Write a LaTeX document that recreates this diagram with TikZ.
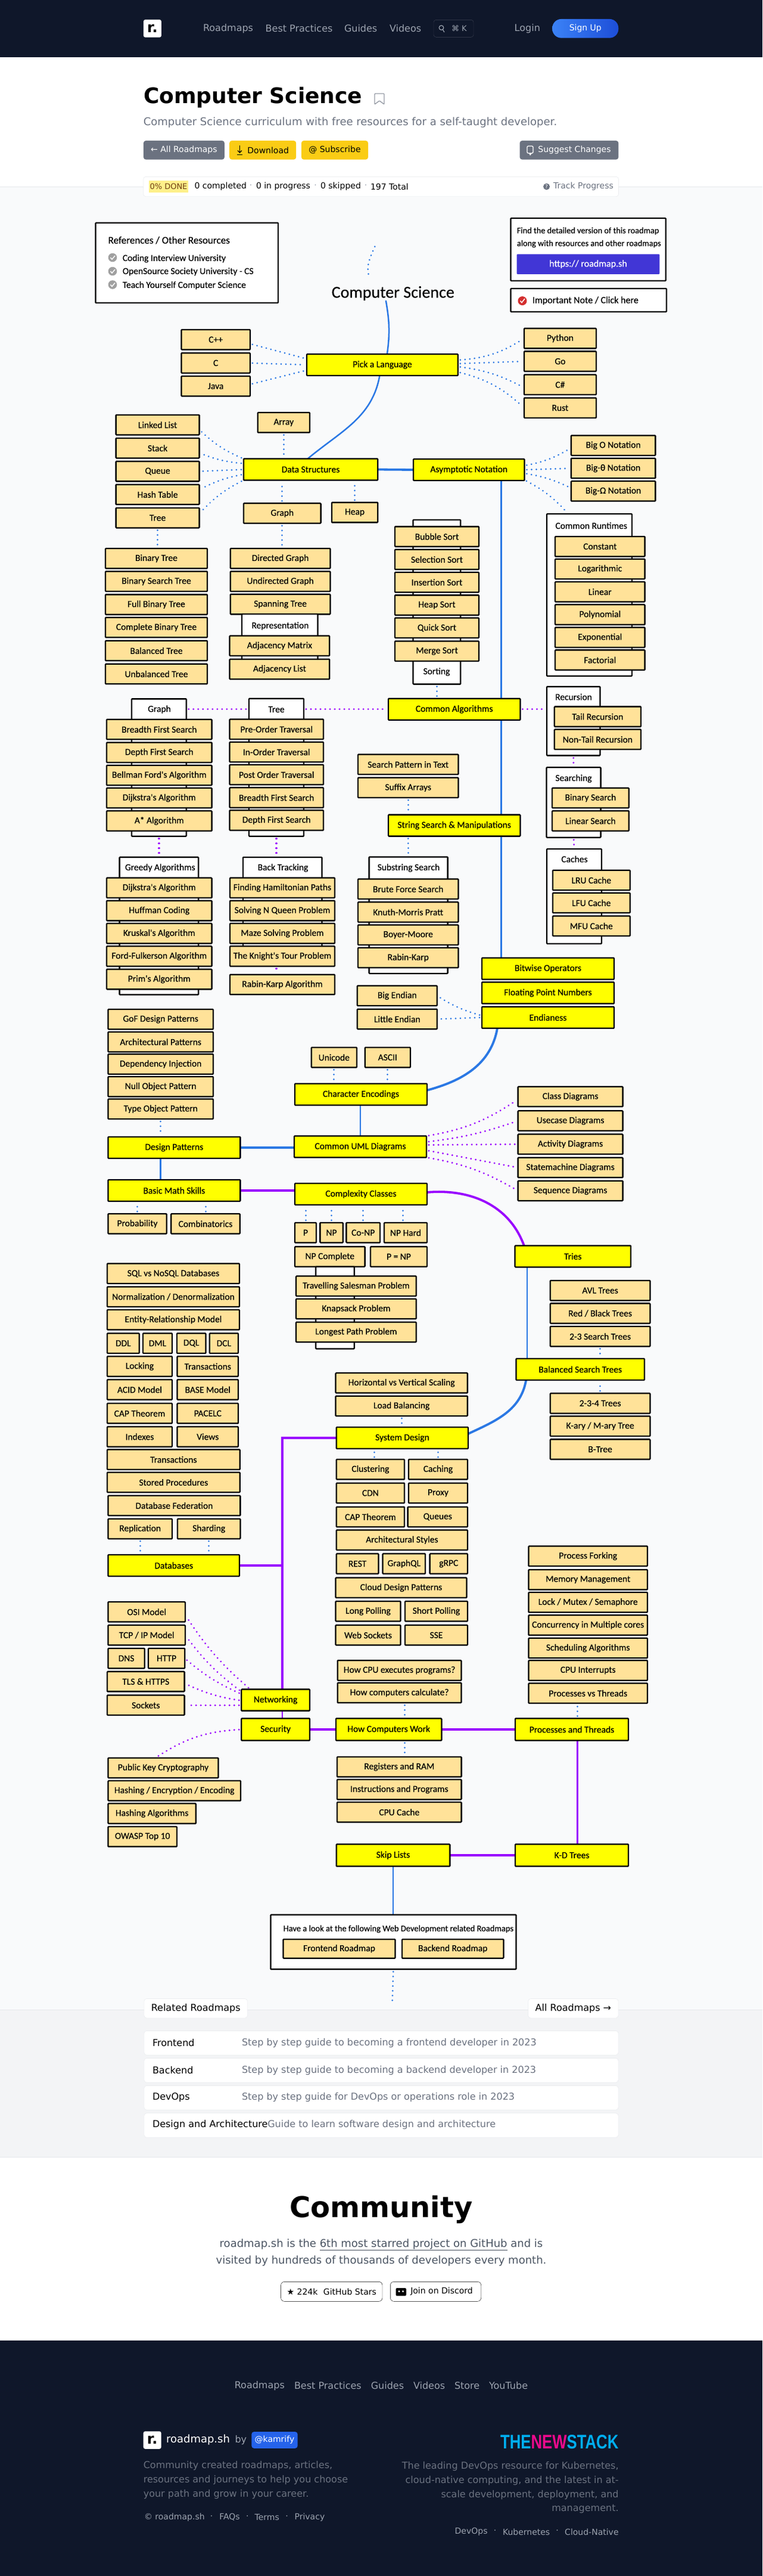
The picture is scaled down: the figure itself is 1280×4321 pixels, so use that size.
\documentclass[tikz,border=0pt]{standalone}
\usepackage{fontspec}
\usepackage{graphicx}
\setmainfont{DejaVu Sans}
\newfontfamily\mapfont[FakeBold=0.2]{Carlito}
\newfontfamily\stackfont{Liberation Sans}
\usetikzlibrary{backgrounds,calc}
\newcommand{\pxfont}[1]{\fontsize{#1}{#1}\selectfont}
\definecolor{darkbar}{HTML}{0F172A}
\definecolor{mapbg}{HTML}{F9FAFB}
\definecolor{relbg}{HTML}{F3F4F6}
\definecolor{rulegray}{HTML}{E5E7EB}
\definecolor{navgray}{HTML}{9CA3AF}
\definecolor{midgray}{HTML}{6B7280}
\definecolor{slate}{HTML}{4B5563}
\definecolor{btnyellow}{HTML}{FACC15}
\definecolor{pillyellow}{HTML}{FEF08A}
\definecolor{pilltext}{HTML}{713F12}
\definecolor{topicyellow}{HTML}{FFFF00}
\definecolor{subfill}{HTML}{FFE299}
\definecolor{lineblue}{HTML}{2B78E4}
\definecolor{linepurple}{HTML}{9900FF}
\definecolor{urlblue}{HTML}{4136D6}
\definecolor{checkgray}{HTML}{A0A0A0}
\definecolor{notered}{HTML}{D32F2F}
\definecolor{stackcyan}{HTML}{00AEEF}
\definecolor{stackpink}{HTML}{EC0A8C}
\definecolor{signleft}{HTML}{3B82F6}
\definecolor{signright}{HTML}{1D4ED8}
\definecolor{kamblue}{HTML}{2563EB}
\tikzset{
  x=1pt,y=-1pt,
  boxbase/.style={draw=black,line width=2.3,rounded corners=1,inner sep=0,outer sep=0,text=black,font={\mapfont\pxfont{15.5}}},
  sub/.style={boxbase,fill=subfill,minimum height=33.5,minimum width=#1},
  topic/.style={boxbase,fill=topicyellow,minimum height=36,minimum width=#1},
  grp/.style 2 args={boxbase,fill=white,minimum width=#1,minimum height=#2},
  lbl/.style={inner sep=0,text=black,font={\mapfont\pxfont{15.5}}},
  dotb/.style={draw=lineblue,line width=3,line cap=round,dash pattern=on 0.01pt off 8pt,shorten >=4,shorten <=4},
  dotp/.style={draw=linepurple,line width=3.2,line cap=round,dash pattern=on 0.01pt off 8pt,shorten >=4,shorten <=4},
  lineb/.style={draw=lineblue,line width=2.5},
  linep/.style={draw=linepurple,line width=2.5},
  thickb/.style={draw=lineblue,line width=3.8},
  thickp/.style={draw=linepurple,line width=3.8},
  txt/.style={inner sep=0,outer sep=0,anchor=west,font=\pxfont{#1}},
  ctxt/.style={inner sep=0,outer sep=0,font=\pxfont{#1}},
  rtxt/.style={inner sep=0,outer sep=0,anchor=east,font=\pxfont{#1}},
  pagebtn/.style={rounded corners=4,inner sep=0,outer sep=0,minimum height=31.7},
  relrow/.style={fill=white,draw=rulegray,rounded corners=4,inner sep=0,outer sep=0,minimum width=796,minimum height=40.5},
}
\begin{document}
\begin{tikzpicture}
\useasboundingbox (0,0) rectangle (1280,4321);
% page bands
\begin{scope}[on background layer]
\fill[white] (0,0) rectangle (1280,4321);
\fill[darkbar] (0,0) rectangle (1280,96);
\fill[mapbg] (0,313.3) rectangle (1280,3371.3);
\fill[relbg] (0,3371.3) rectangle (1280,3618.3);
\fill[darkbar] (0,3925.7) rectangle (1280,4321);
\draw[rulegray,line width=1] (0,313.3) -- (1280,313.3);
\draw[rulegray,line width=1] (0,3371.3) -- (1280,3371.3);
\draw[rulegray,line width=1] (0,3618.3) -- (1280,3618.3);
\end{scope}

% top bar
\node[fill=white,rounded corners=3,inner sep=0,minimum width=30,minimum height=29.7,font={\bfseries\pxfont{24}},text=black] (toplogo) at (255.9,47.8) {r.};
\node[txt=16,text=navgray] (navroad) at (341,47.7) {Roadmaps};
\node[txt=16,text=navgray] (navbest) at (445.7,47.7) {Best Practices};
\node[txt=16,text=navgray] (navguide) at (578,47.7) {Guides};
\node[txt=16,text=navgray] (navvideo) at (654,47.7) {Videos};
\node[draw=darkbar!80!white,rounded corners=4,inner sep=0,minimum width=67,minimum height=29] (searchbox) at (761.5,47.8) {};
\draw[navgray,line width=1.2] (741,46.5) circle (3.8);
\draw[navgray,line width=1.2] (743.5,50) -- (746,54);
\node[txt=13,text=navgray] (searchkey) at (758,47.7) {⌘ K};
\node[txt=16,text=navgray] (navlogin) at (863.7,47.7) {Login};
\node[left color=signleft,right color=signright,rounded corners=15,inner sep=0,minimum width=111,minimum height=31.7,text=white,font=\pxfont{14}] (signup) at (982.8,47.8) {Sign Up};

% heading
\node[txt=36,font={\bfseries\pxfont{36}},text=black] (pagetitle) at (241,163.3) {Computer Science};
\draw[midgray!70,line width=1.4,rounded corners=1] (629,157) -- (645,157) -- (645,175) -- (637,169) -- (629,175) -- cycle;
\node[txt=18,text=midgray] (pagesub) at (240.8,206) {Computer Science curriculum with free resources for a self-taught developer.};
\node[pagebtn,fill=midgray,minimum width=136,text=white,font=\pxfont{14}] (btnall) at (308.9,251.8) {← All Roadmaps};
\node[pagebtn,fill=btnyellow,minimum width=112,font=\pxfont{14},text=black] (btndown) at (441.2,251.8) {\hspace{18pt}Download};
\draw[black,line width=1.3] (402.5,244) -- (402.5,256);
\draw[black,line width=1.3] (399,252.5) -- (402.5,256) -- (406,252.5);
\draw[black,line width=1.5] (398,259.5) -- (407,259.5);
\node[pagebtn,fill=btnyellow,minimum width=112,font=\pxfont{14},text=black] (btnsub) at (562,251.8) {@ Subscribe};
\node[pagebtn,fill=midgray,minimum width=165.7,text=white,font=\pxfont{14}] (btnsug) at (955.5,251.8) {\hspace{18pt}Suggest Changes};
\draw[white,line width=1.3,rounded corners=2] (885,245) rectangle (895,257);
\fill[white] (888,257) -- (893,257) -- (890,261) -- cycle;

% progress bar
\node[fill=white,draw=rulegray,rounded corners=4,inner sep=0,minimum width=797.6,minimum height=33.4] (progbar) at (639.6,313) {};
\node[fill=pillyellow,inner sep=0,minimum width=66,minimum height=20,text=pilltext,font=\pxfont{13}] (progdone) at (283,313) {0\% DONE};
\node[txt=14,text=black] (progcomp) at (326.5,313) {0 completed};
\node[ctxt=14,text=navgray] (progdot1) at (421,313) {·};
\node[txt=14,text=black] (progwork) at (430,313) {0 in progress};
\node[ctxt=14,text=navgray] (progdot2) at (529.5,313) {·};
\node[txt=14,text=black] (progskip) at (538,313) {0 skipped};
\node[ctxt=14,text=navgray] (progdot3) at (614,313) {·};
\node[txt=14,text=black] (progtotal) at (622,313) {197 Total};
\fill[midgray] (917.6,313) circle (5.5);
\node[ctxt=9,text=white] (trackq) at (917.6,313) {?};
\node[txt=14,text=midgray] (tracktxt) at (929,313) {Track Progress};

% side boxes
\node[grp={306.6}{134.3}] (refbox) at (313.7,440.9) {};
\node[lbl,anchor=west,font={\mapfont\pxfont{17}}] (reftitle) at (181.5,403) {References / Other Resources};
\fill[checkgray] (189,432) circle (7.3);
\fill[checkgray] (189,455) circle (7.3);
\fill[checkgray] (189,477.5) circle (7.3);
\draw[white,line width=1.4] (185.5,432) -- (188,435) -- (193,429);
\draw[white,line width=1.4] (185.5,455) -- (188,458) -- (193,452);
\draw[white,line width=1.4] (185.5,477.5) -- (188,480.5) -- (193,474.5);
\node[lbl,anchor=west] (refone) at (205.7,433.7) {Coding Interview University};
\node[lbl,anchor=west] (reftwo) at (205.7,455.7) {OpenSource Society University - CS};
\node[lbl,anchor=west] (refthree) at (205.7,478.8) {Teach Yourself Computer Science};
\node[grp={260.2}{105}] (infobox) at (987.6,418.5) {};
\node[lbl,anchor=west,font={\mapfont\pxfont{14.3}}] (infoone) at (867.7,387.5) {Find the detailed version of this roadmap};
\node[lbl,anchor=west,font={\mapfont\pxfont{14.3}}] (infotwo) at (867.7,409) {along with resources and other roadmaps};
\node[fill=urlblue,rounded corners=1,inner sep=0,minimum width=239.7,minimum height=33.4,text=white,font={\mapfont\pxfont{16}}] (infourl) at (987.5,443.1) {https:// roadmap.sh};
\node[grp={261.5}{38.9}] (notebox) at (988.2,503.5) {};
\fill[notered] (877,504.6) circle (7.5);
\draw[white,line width=1.5] (873.5,504.6) -- (876,507.6) -- (881,501);
\node[lbl,anchor=west,font={\mapfont\pxfont{16}}] (notetxt) at (893.8,504.3) {Important Note / Click here};
\node[lbl,font={\mapfont\pxfont{28}}] (cstitle) at (659.8,492) {Computer Science};
\coordinate (dottop) at (631,410);
\coordinate (dotend) at (619.6,466);

% languages
\node[topic=253.8] (pick) at (641.9,612) {Pick a Language};
\node[sub=115.5] (langcpp) at (362.2,569.7) {C++};
\node[sub=115.5] (langc) at (362.2,608.9) {C};
\node[sub=115.5] (langjava) at (362.2,647.7) {Java};
\node[sub=121] (langpy) at (940.4,567.6) {Python};
\node[sub=121] (langgo) at (940.4,606.1) {Go};
\node[sub=121] (langcs) at (940.4,645.3) {C\#};
\node[sub=121] (langrust) at (940.4,684.2) {Rust};

% data structures
\node[topic=225.3] (ds) at (521.6,787.5) {Data Structures};
\node[sub=87.3] (dsarray) at (476.3,708.8) {Array};
\node[sub=140] (dslinked) at (264.6,712.7) {Linked List};
\node[sub=140] (dsstack) at (264.6,751.7) {Stack};
\node[sub=140] (dsqueue) at (264.6,790.6) {Queue};
\node[sub=140] (dshash) at (264.6,829.5) {Hash Table};
\node[sub=140] (dstree) at (264.6,868.7) {Tree};
\node[sub=129.6] (dsgraph) at (473.8,861) {Graph};
\node[sub=77.3] (dsheap) at (595.6,859.6) {Heap};
\node[sub=171] (treebin) at (262.5,936.8) {Binary Tree};
\node[sub=171] (treebst) at (262.5,975.2) {Binary Search Tree};
\node[sub=171] (treefull) at (262.5,1014.1) {Full Binary Tree};
\node[sub=171] (treecomp) at (262.5,1052.5) {Complete Binary Tree};
\node[sub=171] (treebal) at (262.5,1091.5) {Balanced Tree};
\node[sub=171] (treeunbal) at (262.5,1130.5) {Unbalanced Tree};
\node[sub=167.7] (graphdir) at (470.6,936.8) {Directed Graph};
\node[sub=167.7] (graphund) at (470.6,975.2) {Undirected Graph};
\node[sub=167.7] (graphspan) at (470.6,1013.6) {Spanning Tree};
\node[grp={127.5}{82}] (reprgrp) at (469.7,1071) {};
\node[lbl] (reprlbl) at (470.4,1050) {Representation};
\node[sub=167.8] (adjmat) at (469.4,1083.3) {Adjacency Matrix};
\node[sub=167.8] (adjlist) at (469.4,1122.4) {Adjacency List};

% asymptotic notation
\node[topic=186.4] (an) at (787.2,788) {Asymptotic Notation};
\node[sub=141.5] (bigo) at (1029.6,747.2) {Big O Notation};
\node[sub=141.5] (bigt) at (1029.6,785.5) {Big-θ Notation};
\node[sub=141.5] (bigw) at (1029.6,823.8) {Big-Ω Notation};
\node[grp={143}{272}] (rungrp) at (989.5,998) {};
\node[lbl] (runlbl) at (992.7,881.7) {Common Runtimes};
\node[sub=150.6] (runconst) at (1007.3,916.7) {Constant};
\node[sub=150.6] (runlog) at (1007.3,954.4) {Logarithmic};
\node[sub=150.6] (runlin) at (1007.3,992.7) {Linear};
\node[sub=150.6] (runpoly) at (1007.3,1031) {Polynomial};
\node[sub=150.6] (runexp) at (1007.3,1069.2) {Exponential};
\node[sub=150.6] (runfact) at (1007.3,1107.1) {Factorial};

% sorting
\node[grp={79.7}{275.6}] (sortgrp) at (733.4,1009.8) {};
\node[lbl] (sortlbl) at (733,1127) {Sorting};
\node[sub=141] (sortbub) at (733.5,900.1) {Bubble Sort};
\node[sub=141] (sortsel) at (733.5,938.5) {Selection Sort};
\node[sub=141] (sortins) at (733.5,976.7) {Insertion Sort};
\node[sub=141] (sortheap) at (733.5,1015.1) {Heap Sort};
\node[sub=141] (sortquick) at (733.5,1053.3) {Quick Sort};
\node[sub=141] (sortmerge) at (733.5,1092.3) {Merge Sort};

% common algorithms
\node[topic=221.4] (ca) at (762.7,1189.8) {Common Algorithms};
\node[grp={91.8}{230.3}] (graphgrp) at (266.9,1287.5) {};
\node[lbl] (graphlbl) at (267.5,1190) {Graph};
\node[sub=176.6] (gbfs) at (267.3,1223.5) {Breadth First Search};
\node[sub=176.6] (gdfs) at (267.3,1262.2) {Depth First Search};
\node[sub=176.6] (gbell) at (267.3,1300.5) {Bellman Ford's Algorithm};
\node[sub=176.6] (gdijk) at (267.3,1338.5) {Dijkstra's Algorithm};
\node[sub=176.6] (gastar) at (267.3,1377) {A* Algorithm};
\node[grp={92}{231}] (treegrp) at (464,1287.2) {};
\node[lbl] (treelbl) at (464,1190) {Tree};
\node[sub=157.5] (tpre) at (464.2,1223.2) {Pre-Order Traversal};
\node[sub=157.5] (tin) at (464.2,1261.5) {In-Order Traversal};
\node[sub=157.5] (tpost) at (464.2,1299.5) {Post Order Traversal};
\node[sub=157.5] (tbfs) at (464.2,1338) {Breadth First Search};
\node[sub=157.5] (tdfs) at (464.2,1375.9) {Depth First Search};
\node[sub=168.5] (strpat) at (685.2,1282.3) {Search Pattern in Text};
\node[sub=168.5] (strsuf) at (685.2,1321.3) {Suffix Arrays};
\node[topic=221.4] (ss) at (762.7,1384.6) {String Search \& Manipulations};
\node[grp={89.4}{115.7}] (recgrp) at (962.7,1209.5) {};
\node[lbl] (reclbl) at (963,1169) {Recursion};
\node[sub=145.2] (rectail) at (1003.4,1202.1) {Tail Recursion};
\node[sub=145.2] (recnon) at (1003.4,1240.3) {Non-Tail Recursion};
\node[grp={91.2}{117.4}] (srchgrp) at (963,1346) {};
\node[lbl] (srchlbl) at (963,1306) {Searching};
\node[sub=128.8] (srchbin) at (991.4,1338.5) {Binary Search};
\node[sub=128.8] (srchlin) at (991.4,1376.9) {Linear Search};
\node[grp={92}{159}] (cachegrp) at (964,1503.5) {};
\node[lbl] (cachelbl) at (964.5,1441) {Caches};
\node[sub=129.7] (cachelru) at (992.8,1476.5) {LRU Cache};
\node[sub=129.7] (cachelfu) at (992.8,1514.5) {LFU Cache};
\node[sub=129.7] (cachemfu) at (992.8,1553.2) {MFU Cache};
\node[grp={132.6}{230.7}] (greedygrp) at (266.9,1553.2) {};
\node[lbl] (greedylbl) at (268.8,1455.8) {Greedy Algorithms};
\node[sub=176.6] (grdijk) at (267.3,1489.3) {Dijkstra's Algorithm};
\node[sub=176.6] (grhuff) at (267.3,1527.6) {Huffman Coding};
\node[sub=176.6] (grkrus) at (267.3,1565.8) {Kruskal's Algorithm};
\node[sub=176.6] (grford) at (267.3,1604) {Ford-Fulkerson Algorithm};
\node[sub=176.6] (grprim) at (267.3,1642.6) {Prim's Algorithm};
\node[grp={132.6}{177}] (backgrp) at (474.2,1526.4) {};
\node[lbl] (backlbl) at (475,1455.8) {Back Tracking};
\node[sub=176] (backham) at (474,1489.3) {Finding Hamiltonian Paths};
\node[sub=176] (backqueen) at (474,1527.6) {Solving N Queen Problem};
\node[sub=176] (backmaze) at (474,1565.8) {Maze Solving Problem};
\node[sub=176] (backknight) at (474,1604) {The Knight's Tour Problem};
\node[sub=176] (rabinalg) at (474,1651.5) {Rabin-Karp Algorithm};
\node[grp={132}{195.5}] (substrgrp) at (685.6,1535.2) {};
\node[lbl] (substrlbl) at (686,1455.8) {Substring Search};
\node[sub=168.5] (subbrute) at (685.2,1491.3) {Brute Force Search};
\node[sub=168.5] (subkmp) at (685.2,1530) {Knuth-Morris Pratt};
\node[sub=168.5] (subboyer) at (685.2,1568.3) {Boyer-Moore};
\node[sub=168.5] (subrabin) at (685.2,1606.5) {Rabin-Karp};

% bits and encodings
\node[topic=222] (bitwise) at (920,1624.7) {Bitwise Operators};
\node[topic=222] (floating) at (920,1665.5) {Floating Point Numbers};
\node[topic=222] (endian) at (920,1706.7) {Endianess};
\node[sub=134] (bigend) at (666.8,1670.2) {Big Endian};
\node[sub=134] (litend) at (666.8,1709.4) {Little Endian};
\node[sub=76.3] (unicode) at (560.8,1773.7) {Unicode};
\node[sub=76.3] (ascii) at (650.8,1773.7) {ASCII};
\node[topic=222] (ce) at (606,1835.8) {Character Encodings};

% design patterns and uml
\node[sub=176.5] (patgof) at (269.7,1709.7) {GoF Design Patterns};
\node[sub=176.5] (patarch) at (269.7,1747.7) {Architectural Patterns};
\node[sub=176.5] (patdep) at (269.7,1785) {Dependency Injection};
\node[sub=176.5] (patnull) at (269.7,1822.7) {Null Object Pattern};
\node[sub=176.5] (pattype) at (269.7,1860.3) {Type Object Pattern};
\node[topic=221.9] (dp) at (292.4,1924.9) {Design Patterns};
\node[topic=222] (uml) at (605,1923.5) {Common UML Diagrams};
\node[sub=176] (umlclass) at (957.6,1839.5) {Class Diagrams};
\node[sub=176] (umluse) at (957.6,1880) {Usecase Diagrams};
\node[sub=176] (umlact) at (957.6,1919.3) {Activity Diagrams};
\node[sub=176] (umlstate) at (957.6,1958.5) {Statemachine Diagrams};
\node[sub=176] (umlseq) at (957.6,1997.4) {Sequence Diagrams};

% math and complexity
\node[topic=221.9] (math) at (292.4,1996.9) {Basic Math Skills};
\node[sub=98.2] (mathprob) at (230.6,2052.8) {Probability};
\node[sub=115.5] (mathcomb) at (345,2052.8) {Combinatorics};
\node[topic=222] (cplx) at (606,2003) {Complexity Classes};
\node[sub=36] (cplxp) at (513,2067.7) {P};
\node[sub=38.3] (cplxnp) at (556.5,2067.7) {NP};
\node[sub=56.7] (cplxco) at (609.7,2067.7) {Co-NP};
\node[sub=72] (cplxhard) at (681,2067.7) {NP Hard};
\node[sub=117.6] (cplxcomp) at (553.8,2107.9) {NP Complete};
\node[sub=95] (cplxeq) at (669.5,2107.9) {P = NP};
\node[grp={64.4}{137.8}] (npgrp) at (562.5,2193.6) {};
\node[sub=201.7] (nptsp) at (597.9,2157.3) {Travelling Salesman Problem};
\node[sub=201.7] (npknap) at (597.9,2195.4) {Knapsack Problem};
\node[sub=201.7] (nplong) at (597.9,2234.4) {Longest Path Problem};

% trees
\node[topic=194.5] (tries) at (961.8,2107.4) {Tries};
\node[sub=167.7] (btavl) at (1007.6,2164.7) {AVL Trees};
\node[sub=167.7] (btrb) at (1007.6,2203.1) {Red / Black Trees};
\node[sub=167.7] (bt23) at (1007.6,2241.7) {2-3 Search Trees};
\node[topic=215.6] (balanced) at (974.2,2297) {Balanced Search Trees};
\node[sub=167.7] (bt234) at (1007.6,2353.9) {2-3-4 Trees};
\node[sub=167.7] (btkary) at (1007.6,2392.2) {K-ary / M-ary Tree};
\node[sub=167.7] (btb) at (1007.6,2431.1) {B-Tree};

% databases
\node[sub=222] (dbsql) at (291,2136.3) {SQL vs NoSQL Databases};
\node[sub=222] (dbnorm) at (291,2175.2) {Normalization / Denormalization};
\node[sub=222] (dber) at (291,2213.8) {Entity-Relationship Model};
\node[sub=53.8] (dbddl) at (206.9,2253.2) {DDL};
\node[sub=49] (dbdml) at (264.5,2253.2) {DML};
\node[sub=48.4] (dbdql) at (321.2,2253.2) {DQL};
\node[sub=48.3] (dbdcl) at (375.9,2253.2) {DCL};
\node[sub=109] (dblock) at (234.5,2292) {Locking};
\node[sub=102.5] (dbtrans) at (348.8,2292) {Transactions};
\node[sub=109] (dbacid) at (234.5,2331) {ACID Model};
\node[sub=102.5] (dbbase) at (348.8,2331) {BASE Model};
\node[sub=109] (dbcap) at (234.5,2370.8) {CAP Theorem};
\node[sub=102.5] (dbpace) at (348.8,2370.8) {PACELC};
\node[sub=109] (dbindex) at (234.5,2409.9) {Indexes};
\node[sub=102.5] (dbviews) at (348.8,2409.9) {Views};
\node[sub=222.8] (dbtrans2) at (291.4,2448.3) {Transactions};
\node[sub=222.8] (dbstored) at (291.4,2486.5) {Stored Procedures};
\node[sub=221.9] (dbfed) at (292.4,2525.5) {Database Federation};
\node[sub=107.5] (dbrepl) at (235.2,2564.4) {Replication};
\node[sub=105.4] (dbshard) at (350.7,2564.4) {Sharding};
\node[topic=220.5] (db) at (291.8,2625.9) {Databases};

% system design
\node[sub=221.3] (sdscale) at (674.2,2319.8) {Horizontal vs Vertical Scaling};
\node[sub=221.3] (sdload) at (674.2,2358.4) {Load Balancing};
\node[topic=221.3] (sd) at (675.4,2412) {System Design};
\node[sub=114.3] (sdclust) at (621.9,2464.8) {Clustering};
\node[sub=99] (sdcache) at (735.5,2464.8) {Caching};
\node[sub=114.3] (sdcdn) at (621.9,2504.4) {CDN};
\node[sub=99] (sdproxy) at (735.5,2504.4) {Proxy};
\node[sub=114.3] (sdcap) at (621.9,2544.4) {CAP Theorem};
\node[sub=100.4] (sdqueue) at (734.8,2544.4) {Queues};
\node[sub=220.3] (sdarch) at (674.9,2583.3) {Architectural Styles};
\node[sub=70.8] (sdrest) at (600.1,2623) {REST};
\node[sub=71.5] (sdgql) at (678.3,2623) {GraphQL};
\node[sub=63.4] (sdgrpc) at (753.3,2623) {gRPC};
\node[sub=220] (sdcloud) at (673.5,2663.3) {Cloud Design Patterns};
\node[sub=109] (sdlong) at (618,2702.8) {Long Polling};
\node[sub=105] (sdshort) at (732.5,2702.8) {Short Polling};
\node[sub=109] (sdweb) at (618,2742.8) {Web Sockets};
\node[sub=105] (sdsse) at (732.5,2742.8) {SSE};

% processes
\node[sub=199.6] (procfork) at (987.2,2610.3) {Process Forking};
\node[sub=199.6] (procmem) at (987.2,2649.8) {Memory Management};
\node[sub=199.6] (proclock) at (987.2,2687.8) {Lock / Mutex / Semaphore};
\node[sub=199.6] (proccon) at (987.2,2726) {Concurrency in Multiple cores};
\node[sub=199.6] (procsched) at (987.2,2764.5) {Scheduling Algorithms};
\node[sub=199.6] (procint) at (987.2,2802) {CPU Interrupts};
\node[sub=199.6] (procvs) at (987.2,2840.2) {Processes vs Threads};
\node[topic=190,minimum height=37] (pt) at (960,2901) {Processes and Threads};
\node[topic=177.4,minimum height=37] (hcw) at (652.7,2901) {How Computers Work};
\node[topic=114.7,minimum height=37] (security) at (462.6,2901) {Security};
\node[topic=114.7] (networking) at (462.6,2851.6) {Networking};
\node[sub=129.5] (netosi) at (246.2,2703.8) {OSI Model};
\node[sub=129.5] (nettcp) at (246.2,2742.8) {TCP / IP Model};
\node[sub=61.2] (netdns) at (212.1,2781.7) {DNS};
\node[sub=61.3] (nethttp) at (279.6,2781.7) {HTTP};
\node[sub=129.6] (nettls) at (244.8,2820.6) {TLS \& HTTPS};
\node[sub=129.6] (netsock) at (244.8,2860.2) {Sockets};
\node[sub=184.9] (secpkc) at (274,2965.4) {Public Key Cryptography};
\node[sub=222.5] (sechash) at (292.8,3003.8) {Hashing / Encryption / Encoding};
\node[sub=147.3] (secalg) at (255.2,3042) {Hashing Algorithms};
\node[sub=115.5] (secowasp) at (239.2,3080.8) {OWASP Top 10};
\node[sub=207.9] (hcwcpu) at (670.6,2801.9) {How CPU executes programs?};
\node[sub=207.9] (hcwcalc) at (670.6,2839.5) {How computers calculate?};
\node[sub=208.6] (hcwreg) at (670.3,2963.8) {Registers and RAM};
\node[sub=208.6] (hcwins) at (670.3,3001.7) {Instructions and Programs};
\node[sub=208.6] (hcwcache) at (670.3,3039.7) {CPU Cache};
\node[topic=190.7,minimum height=37] (skip) at (660,3112) {Skip Lists};
\node[topic=190,minimum height=37] (kd) at (960,3112) {K-D Trees};

% related box
\node[grp={412}{91.6}] (webbox) at (660.4,3257.5) {};
\node[lbl,anchor=west,font={\mapfont\pxfont{14.5}}] (webtxt) at (475.5,3235.7) {Have a look at the following Web Development related Roadmaps};
\node[sub=188,minimum height=31.7] (webfront) at (569.5,3268.8) {Frontend Roadmap};
\node[sub=170.4,minimum height=31.7] (webback) at (760.2,3268.8) {Backend Roadmap};
\coordinate (mapend) at (658.5,3362);

% connectors
\coordinate (netjoin) at ([xshift=11.6]networking.north);
\begin{scope}[on background layer]
\draw[dotb] (dottop) .. controls (615,445) and (617,450) .. (dotend);
\draw[lineb] ([xshift=-12]cstitle.south) to[out=-80,in=82] ([xshift=8]pick.north);
\draw[lineb] ([xshift=-4.5]pick.south) to[out=-100,in=40] ([xshift=-5]ds.north);
\draw[dotb] ([yshift=-7]langcpp.east) -- ([yshift=10]pick.west);
\draw[dotb] (langc.east) -- (pick.west);
\draw[dotb] ([yshift=3]langjava.east) -- ([yshift=-9]pick.west);
\draw[dotb] ([yshift=8]pick.east) to[bend right=14] (langpy.west);
\draw[dotb] ([yshift=2]pick.east) -- (langgo.west);
\draw[dotb] ([yshift=-3]pick.east) to[bend left=10] ([yshift=-5]langcs.west);
\draw[dotb] ([yshift=-12]pick.east) to[bend left=14] (langrust.west);
\draw[dotb] (ds.north west) to[bend left=10] ([yshift=-8]dslinked.east);
\draw[dotb] ([yshift=10]ds.west) to[bend left=8] ([yshift=-8]dsstack.east);
\draw[dotb] (ds.west) -- (dsqueue.east);
\draw[dotb] ([yshift=-8]ds.west) to[bend right=8] ([yshift=8]dshash.east);
\draw[dotb] (ds.south west) to[bend right=10] ([yshift=7]dstree.east);
\draw[dotb] (dsarray.south) -- (dsarray.south |- ds.north);
\draw[dotb] (dsgraph.north) -- (dsgraph.north |- ds.south);
\draw[dotb] (dsheap.north) -- (dsheap.north |- ds.south);
\draw[dotb] (dstree.south) -- (dstree.south |- treebin.north);
\draw[dotb] (dsgraph.south) -- (dsgraph.south |- graphdir.north);
\draw[thickb] (ds.east) -- (an.west);
\draw[dotb] ([yshift=7]an.east) to[bend right=10] ([yshift=-4]bigo.west);
\draw[dotb] (an.east) -- (bigt.west);
\draw[dotb] ([yshift=-6]an.east) to[bend left=8] ([yshift=5]bigw.west);
\draw[dotb] ([yshift=-17]an.east) to[bend left=10] ([xshift=36]rungrp.north west);
\draw[lineb] ([xshift=54.3]an.south) -- ([xshift=54.3]an.south |- bitwise.north);
\draw[dotb] (sortgrp.south) -- (sortgrp.south |- ca.north);
\draw[dotp] (graphgrp.east |- ca.west) -- (treegrp.west |- ca.west);
\draw[dotp] (treegrp.east |- ca.west) -- (ca.west);
\draw[dotp] (ca.east) -- (ca.east -| recgrp.west);
\draw[dotp] (recgrp.south) -- (srchgrp.north);
\draw[dotp] (srchgrp.south) -- (cachegrp.north);
\draw[dotp] (graphgrp.south) -- (greedygrp.north);
\draw[dotp] (treegrp.south) -- (treegrp.south |- backgrp.north);
\draw[dotp] ([xshift=-10]backknight.south) -- ([xshift=-10]backknight.south |- rabinalg.north);
\draw[dotb] (strsuf.south) -- (strsuf.south |- ss.north);
\draw[dotb] (strsuf.south |- ss.south) -- (substrgrp.north);
\draw[dotb] ([yshift=3]endian.west) to[bend left=8] (bigend.east);
\draw[dotb] (endian.west) -- (litend.east);
\draw[thickb] ([xshift=-85]endian.south) to[out=-100,in=15] ([yshift=7]ce.east);
\draw[dotb] (unicode.south) -- (unicode.south |- ce.north);
\draw[dotb] (ascii.south) -- (ascii.south |- ce.north);
\draw[lineb] (uml.north) -- (uml.north |- ce.south);
\draw[thickb] (dp.east) -- (dp.east -| uml.west);
\draw[dotb] (pattype.south) -- (pattype.south |- dp.north);
\draw[lineb] (pattype.south |- dp.south) -- (pattype.south |- math.north);
\draw[thickp] (math.east) -- (math.east -| cplx.west);
\draw[dotb] (mathprob.north) -- (mathprob.north |- math.south);
\draw[dotb] (mathcomb.north) -- (mathcomb.north |- math.south);
\draw[dotb] (cplxp.north) -- (cplxp.north |- cplx.south);
\draw[dotb] (cplxnp.north) -- (cplxnp.north |- cplx.south);
\draw[dotb] (cplxco.north) -- (cplxco.north |- cplx.south);
\draw[dotb] ([xshift=-5]cplxhard.north) -- ([xshift=-5]cplxhard.north |- cplx.south);
\draw[dotp] ([yshift=18]uml.east) to[bend right=12] ([yshift=-4.5]umlclass.west);
\draw[dotp] ([yshift=8]uml.east) to[bend right=6] (umluse.west);
\draw[dotp] ([yshift=3]uml.east) -- (umlact.west);
\draw[dotp] ([yshift=-6]uml.east) -- (umlstate.west);
\draw[dotp] (uml.south east) to[bend left=10] (umlseq.west);
\draw[thickp] ([yshift=3]cplx.east) to[out=5,in=110] ([xshift=-82]tries.north);
\draw[lineb] ([xshift=-76.8]tries.south) -- ([xshift=-76.8]tries.south |- balanced.north);
\draw[dotb] (bt23.south) -- (bt23.south |- balanced.north);
\draw[dotb] (bt234.north) -- (bt234.north |- balanced.south);
\draw[thickb] ([xshift=-91]balanced.south) to[out=-100,in=25] ([yshift=7]sd.east);
\draw[dotb] (sdload.south) -- (sdload.south |- sd.north);
\draw[dotb] ([xshift=7]sdclust.north) -- ([xshift=7]sdclust.north |- sd.south);
\draw[dotb] (sdcache.north) -- (sdcache.north |- sd.south);
\draw[thickp] (sd.west) -| (netjoin);
\draw[thickp] (db.east) -- (db.east -| netjoin);
\draw[linep] (networking.south -| netjoin) -- (security.north -| netjoin);
\draw[dotb] (dbrepl.south) -- (dbrepl.south |- db.north);
\draw[dotb] (dbshard.south) -- (dbshard.south |- db.north);
\draw[thickp] (security.east) -- (hcw.west);
\draw[thickp] (hcw.east) -- (pt.west);
\draw[linep] ([xshift=9.7]pt.south) -- ([xshift=9.7]kd.north);
\draw[thickp] (skip.east) -- (kd.west);
\draw[lineb] (skip.south) -- (skip.south |- webbox.north);
\draw[dotb] ([xshift=9]pt.north) -- ([xshift=9]pt.north |- procvs.south);
\draw[dotb] ([xshift=9.3]hcwcalc.north |- hcwcalc.south) -- ([xshift=9.3]hcwcalc.north |- hcw.north);
\draw[dotb] ([xshift=9.3]hcwcalc.north |- hcw.south) -- ([xshift=9.3]hcwcalc.north |- hcwreg.north);
\draw[dotp] ([xshift=15]networking.north west) to[bend left=8] ([yshift=-5]netosi.east);
\draw[dotp] ([yshift=14]networking.west) to[bend left=8] (nettcp.east);
\draw[dotp] ([yshift=10]networking.west) to[bend left=8] (nethttp.east);
\draw[dotp] ([yshift=-1]networking.west) to[bend left=8] ([yshift=-3]nettls.east);
\draw[dotp] (networking.west |- netsock.east) -- (netsock.east);
\draw[dotp] (security.west) to[bend right=15] ([xshift=-13]secpkc.north);
\draw[dotb] (webbox.south) -- (mapend);
\end{scope}

% related roadmaps
\node[fill=white,draw=rulegray,rounded corners=4,inner sep=0,minimum width=173.5,minimum height=32.3,text=black,font=\pxfont{16}] (relleft) at (328.7,3368.8) {Related Roadmaps};
\node[fill=white,draw=rulegray,rounded corners=4,inner sep=0,minimum width=151.2,minimum height=32.3,text=black,font=\pxfont{16}] (relright) at (962.4,3368.8) {All Roadmaps →};
\node[relrow] (rowone) at (640,3426.8) {};
\node[relrow] (rowtwo) at (640,3472.8) {};
\node[relrow] (rowthree) at (640,3518.8) {};
\node[relrow] (rowfour) at (640,3565) {};
\node[txt=16,text=black] (rowonea) at (256,3426.7) {Frontend};
\node[txt=16,text=midgray] (rowoneb) at (406,3426.7) {Step by step guide to becoming a frontend developer in 2023};
\node[txt=16,text=black] (rowtwoa) at (256,3472.7) {Backend};
\node[txt=16,text=midgray] (rowtwob) at (406,3472.7) {Step by step guide to becoming a backend developer in 2023};
\node[txt=16,text=black] (rowthreea) at (256,3518.3) {DevOps};
\node[txt=16,text=midgray] (rowthreeb) at (406,3518.3) {Step by step guide for DevOps or operations role in 2023};
\node[txt=16,text=black] (rowfoura) at (256,3564.3) {Design and Architecture};
\node[txt=16,text=midgray] (rowfourb) at (449.3,3564.3) {Guide to learn software design and architecture};

% community
\node[ctxt=48,font={\bfseries\pxfont{48}},text=black] (commtitle) at (640,3706.7) {Community};
\node[ctxt=18,text=slate] (commone) at (640,3765) {roadmap.sh is the \underline{6th most starred project on GitHub} and is};
\node[ctxt=18,text=slate] (commtwo) at (640,3792.7) {visited by hundreds of thousands of developers every month.};
\node[draw=black,rounded corners=6,fill=white,inner sep=0,minimum width=170.4,minimum height=33,text=black,font=\pxfont{14}] (commstar) at (556.8,3843.8) {★ 224k\hspace{5pt} GitHub Stars};
\node[draw=black,rounded corners=6,fill=white,inner sep=0,minimum width=152.4,minimum height=33,text=black,font=\pxfont{14}] (commdisc) at (731.5,3843.8) {\hspace{20pt}Join on Discord};
\fill[black,rounded corners=2] (664.5,3838) rectangle (682,3851);
\fill[white] (670,3843.5) circle (1.7);
\fill[white] (676.5,3843.5) circle (1.7);

% footer
\node[txt=16,text=navgray] (footroad) at (393.8,4001.7) {Roadmaps};
\node[txt=16,text=navgray] (footbest) at (494,4001.7) {Best Practices};
\node[txt=16,text=navgray] (footguide) at (622.8,4001.7) {Guides};
\node[txt=16,text=navgray] (footvideo) at (694,4001.7) {Videos};
\node[txt=16,text=navgray] (footstore) at (763,4001.7) {Store};
\node[txt=16,text=navgray] (foottube) at (821,4001.7) {YouTube};
\node[fill=white,rounded corners=3,inner sep=0,minimum width=30,minimum height=29.4,font={\bfseries\pxfont{24}},text=black] (footlogo) at (255.7,4093) {r.};
\node[txt=18,text=white] (footname) at (279,4092.7) {roadmap.sh};
\node[txt=16,text=navgray] (footby) at (394.5,4092.7) {by};
\node[fill=kamblue,rounded corners=4,inner sep=0,minimum width=77.2,minimum height=27.7,text=white,font=\pxfont{14}] (footkam) at (461,4092.9) {@kamrify};
\node[txt=16,text=midgray] (footd1) at (240.8,4135.7) {Community created roadmaps, articles,};
\node[txt=16,text=midgray] (footd2) at (240.8,4159.7) {resources and journeys to help you choose};
\node[txt=16,text=midgray] (footd3) at (240.8,4183.7) {your path and grow in your career.};
\node[txt=14,text=navgray] (footl1) at (242,4222.3) {© roadmap.sh};
\node[ctxt=14,text=navgray] (footdot1) at (355,4222.3) {·};
\node[txt=14,text=navgray] (footl2) at (368.3,4222.3) {FAQs};
\node[ctxt=14,text=navgray] (footdot2) at (415.3,4222.3) {·};
\node[txt=14,text=navgray] (footl3) at (427.6,4222.3) {Terms};
\node[ctxt=14,text=navgray] (footdot3) at (481.7,4222.3) {·};
\node[txt=14,text=navgray] (footl4) at (494.6,4222.3) {Privacy};
\node[inner sep=0,anchor=east,font={\stackfont\bfseries\pxfont{33}}] (stacklogo) at (1038.6,4096) {\scalebox{.78}[1]{\textcolor{stackcyan}{THE}\textcolor{stackpink}{NEW}\textcolor{stackcyan}{STACK}}};
\node[rtxt=16,text=midgray] (stackd1) at (1038.6,4136.7) {The leading DevOps resource for Kubernetes,};
\node[rtxt=16,text=midgray] (stackd2) at (1038.6,4161) {cloud-native computing, and the latest in at-};
\node[rtxt=16,text=midgray] (stackd3) at (1038.6,4184.7) {scale development, deployment, and};
\node[rtxt=16,text=midgray] (stackd4) at (1038.6,4208.7) {management.};
\node[txt=14,text=navgray] (stackl1) at (763.7,4247) {DevOps};
\node[ctxt=14,text=navgray] (stackdot1) at (831,4247) {·};
\node[txt=14,text=navgray] (stackl2) at (844,4247) {Kubernetes};
\node[ctxt=14,text=navgray] (stackdot2) at (935.7,4247) {·};
\node[rtxt=14,text=navgray] (stackl3) at (1038.6,4247) {Cloud-Native};
\end{tikzpicture}
\end{document}
